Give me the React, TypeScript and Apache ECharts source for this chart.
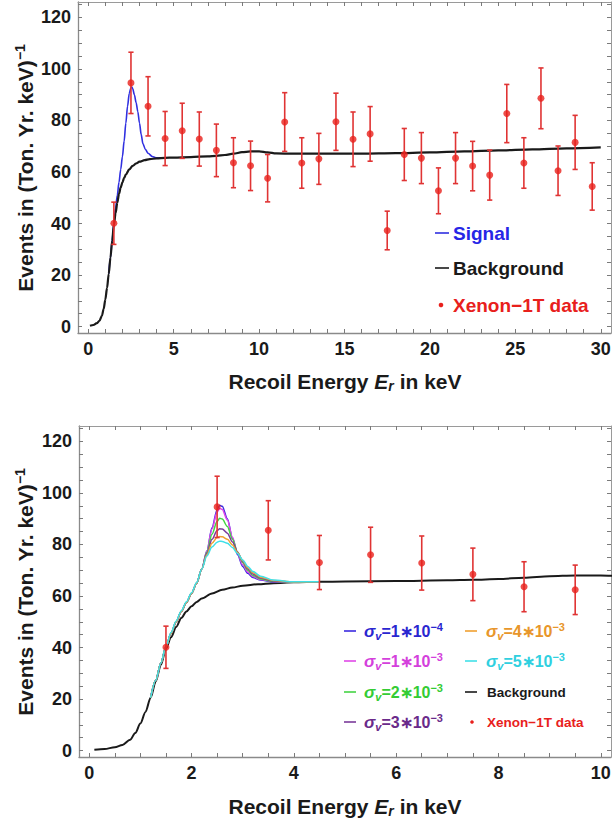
import React, { useEffect, useRef } from 'react';
import * as echarts from 'echarts';

// ---------- data ----------
const dataE = [1.5, 2.5, 3.5, 4.5, 5.5, 6.5, 7.5, 8.5, 9.5, 10.5, 11.5, 12.5, 13.5, 14.5, 15.5, 16.5, 17.5, 18.5, 19.5, 20.5, 21.5, 22.5, 23.5, 24.5, 25.5, 26.5, 27.5, 28.5, 29.5];
const dataV = [40.1, 94.6, 85.5, 73.0, 76.0, 72.8, 68.4, 63.6, 62.4, 57.6, 79.4, 63.5, 65.1, 79.5, 72.7, 74.8, 37.3, 66.8, 65.4, 52.7, 65.4, 62.3, 58.8, 82.7, 63.5, 88.6, 60.5, 71.5, 54.4];
const dataErr = [8.2, 11.9, 11.5, 10.5, 10.7, 10.5, 10.2, 9.7, 9.6, 9.2, 11.4, 9.8, 9.9, 11.1, 10.6, 10.6, 7.5, 10.1, 9.9, 8.9, 9.9, 9.6, 9.7, 11.3, 9.8, 11.8, 9.6, 10.5, 9.2];

const bgE = [0.1, 0.3, 0.5, 0.65, 0.8, 0.9, 1.0, 1.1, 1.2, 1.3, 1.4, 1.5, 1.6, 1.7, 1.8, 1.9, 2.0, 2.1, 2.2, 2.4, 2.6, 2.8, 3.0, 3.3, 3.6, 4.0, 4.5, 5.0, 6.0, 7.0, 7.5, 8.0, 8.5, 9.0, 9.5, 10.0, 10.5, 11.0, 12.0, 14.0, 16.0, 18.0, 20.0, 22.0, 24.0, 26.0, 28.0, 30.0];
const bgV = [0.3, 0.6, 1.3, 2.2, 4.2, 6.8, 10.5, 15.0, 20.5, 26.8, 33.3, 39.5, 44.0, 48.0, 51.5, 54.0, 56.0, 57.7, 59.0, 61.0, 62.4, 63.3, 64.0, 64.6, 65.0, 65.3, 65.5, 65.6, 65.8, 66.1, 66.3, 66.6, 67.1, 67.7, 68.0, 68.0, 67.6, 67.2, 67.1, 67.1, 67.1, 67.3, 67.6, 68.0, 68.4, 68.8, 69.2, 69.6];

const topSigE = [1.2, 1.3, 1.4, 1.5, 1.6, 1.7, 1.8, 1.9, 2.0, 2.1, 2.2, 2.3, 2.4, 2.5, 2.55, 2.6, 2.7, 2.8, 2.9, 3.0, 3.1, 3.2, 3.35, 3.5, 3.75, 4.0, 4.5];
const topSigV = [20.5, 26.8, 33.5, 40.3, 46.0, 51.0, 56.0, 61.0, 66.0, 72.0, 79.0, 85.5, 90.5, 92.8, 93.0, 92.4, 90.0, 87.0, 83.5, 79.0, 74.5, 71.0, 68.7, 67.3, 66.0, 65.5, 65.5];

const sigE = [1.2, 1.3, 1.4, 1.5, 1.6, 1.7, 1.8, 1.9, 2.0, 2.1, 2.2, 2.3, 2.4, 2.5, 2.55, 2.6, 2.7, 2.8, 2.9, 3.0, 3.1, 3.2, 3.35, 3.6, 4.0, 4.5];
const sig1e4 = [20.5, 27.3, 34.0, 40.3, 45.5, 50.0, 54.0, 57.5, 61.0, 65.0, 70.5, 77.5, 86.5, 93.5, 95.2, 94.8, 90.0, 82.5, 76.0, 71.5, 68.8, 67.2, 66.2, 65.5, 65.3, 65.5];
const sig1e3 = [20.5, 27.3, 34.0, 40.3, 45.5, 50.0, 54.0, 57.5, 61.0, 65.0, 70.5, 77.5, 86.0, 92.6, 94.0, 93.6, 89.5, 82.8, 76.6, 72.2, 69.3, 67.6, 66.4, 65.6, 65.3, 65.5];
const sig2e3 = [20.5, 27.3, 34.0, 40.3, 45.5, 50.0, 54.0, 57.5, 61.0, 65.0, 70.5, 77.0, 84.0, 89.0, 90.2, 89.9, 87.0, 82.0, 77.0, 73.0, 70.0, 68.0, 66.6, 65.7, 65.3, 65.5];
const sig3e3 = [20.5, 27.3, 34.0, 40.3, 45.5, 50.0, 54.0, 57.5, 61.0, 65.0, 70.5, 76.5, 82.0, 85.4, 86.1, 86.0, 84.4, 81.0, 77.0, 73.5, 70.5, 68.5, 67.0, 65.8, 65.4, 65.5];
const sig4e3 = [20.5, 27.3, 34.0, 40.3, 45.5, 50.0, 54.0, 57.5, 61.0, 65.0, 70.5, 76.0, 80.5, 82.7, 83.1, 83.0, 82.0, 79.8, 76.8, 73.8, 71.0, 69.0, 67.3, 66.0, 65.4, 65.5];
const sig5e3 = [20.5, 27.3, 34.0, 40.5, 45.8, 50.3, 54.3, 57.8, 61.3, 65.2, 70.5, 75.5, 79.0, 80.9, 81.3, 81.2, 80.5, 78.8, 76.5, 74.0, 71.5, 69.5, 67.7, 66.2, 65.5, 65.5];

const topXLabels = [0, 5, 10, 15, 20, 25, 30];
const topXTicks = [0, 1, 2, 3, 4, 5, 6, 7, 8, 9, 10, 11, 12, 13, 14, 15, 16, 17, 18, 19, 20, 21, 22, 23, 24, 25, 26, 27, 28, 29, 30];
const botXLabels = [0, 2, 4, 6, 8, 10];
const botXTicks = [0, 0.5, 1, 1.5, 2, 2.5, 3, 3.5, 4, 4.5, 5, 5.5, 6, 6.5, 7, 7.5, 8, 8.5, 9, 9.5, 10];
const yLabels = [0, 20, 40, 60, 80, 100, 120];
const yTicks = [0, 5, 10, 15, 20, 25, 30, 35, 40, 45, 50, 55, 60, 65, 70, 75, 80, 85, 90, 95, 100, 105, 110, 115, 120, 125];

// ---------- helpers ----------
const FF = "'Liberation Sans', Arial, Helvetica, sans-serif";
const C = {
  red: '#e8201c',
  err: '#e03434',
  black: '#1a1a1a',
  blue: '#3030e0',
  s1: '#3a2ae0',
  s2: '#e048e8',
  s3: '#44d444',
  s4: '#7a3a9a',
  s5: '#f0a030',
  s6: '#40e0e8',
};

const pairs = (xs: number[], ys: number[]) => xs.map((x, i) => [x, ys[i]]);

const errRender = (_params: any, api: any) => {
  const x = api.value(0);
  const a = api.coord([x, api.value(2)]);
  const b = api.coord([x, api.value(1)]);
  const st = { stroke: C.err, lineWidth: 1.6 };
  const w = 2.6;
  return {
    type: 'group',
    children: [
      { type: 'line', shape: { x1: a[0], y1: a[1], x2: b[0], y2: b[1] }, style: st },
      { type: 'line', shape: { x1: a[0] - w, y1: a[1], x2: a[0] + w, y2: a[1] }, style: st },
      { type: 'line', shape: { x1: b[0] - w, y1: b[1], x2: b[0] + w, y2: b[1] }, style: st },
    ],
  };
};

const axisLineStyle = { color: '#8a8a8a', width: 1.3 };
const tickStyle = { color: '#7a7a7a', width: 1 };
const labelStyle = { fontSize: 18, fontWeight: 'bold' as const, color: '#1a1a1a', fontFamily: FF };

function xAxes(gridIndex: number, min: number, max: number, labels: number[], ticks: number[]) {
  return [
    {
      type: 'value', gridIndex, min, max, position: 'bottom',
      axisLine: { show: true, onZero: false, lineStyle: axisLineStyle },
      axisTick: { show: true, inside: true, length: 4, customValues: ticks, lineStyle: tickStyle },
      axisLabel: { ...labelStyle, margin: 7, customValues: labels },
      splitLine: { show: false },
    },
    {
      type: 'value', gridIndex, min, max, position: 'top',
      axisLine: { show: true, onZero: false, lineStyle: { color: '#9a9a9a', width: 1 } },
      axisTick: { show: true, inside: true, length: 4, customValues: ticks, lineStyle: tickStyle },
      axisLabel: { show: false },
      splitLine: { show: false },
    },
  ];
}

function yAxes(gridIndex: number) {
  return [
    {
      type: 'value', gridIndex, min: -2.5, max: 126, position: 'left',
      axisLine: { show: true, onZero: false, lineStyle: axisLineStyle },
      axisTick: { show: true, inside: true, length: 4, customValues: yTicks, lineStyle: tickStyle },
      axisLabel: { ...labelStyle, margin: 7, customValues: yLabels },
      splitLine: { show: false },
    },
    {
      type: 'value', gridIndex, min: -2.5, max: 126, position: 'right',
      axisLine: { show: true, onZero: false, lineStyle: { color: '#9a9a9a', width: 1 } },
      axisTick: { show: true, inside: true, length: 4, customValues: yTicks, lineStyle: tickStyle },
      axisLabel: { show: false },
      splitLine: { show: false },
    },
  ];
}

const lineSeries = (name: string, xi: number, yi: number, data: number[][], color: string, width: number, z = 2) => ({
  name, type: 'line', xAxisIndex: xi, yAxisIndex: yi, data, showSymbol: false, symbol: 'none',
  smooth: 0.3, smoothMonotone: 'x', lineStyle: { color, width }, z, silent: true,
});

const errData = dataE.map((x, i) => [x, dataV[i] - dataErr[i], dataV[i] + dataErr[i]]);
const dotData = pairs(dataE, dataV);
const botErr = errData.filter((d) => d[0] < 10);
const botDots = dotData.filter((d) => d[0] < 10);

const yTitle = (y: number) => ({
  type: 'text', x: 25, y, rotation: Math.PI / 2, z: 10,
  style: {
    text: '{a|Events in (Ton. Yr. keV)}{b|−1}',
    align: 'center', verticalAlign: 'middle',
    rich: {
      a: { fontSize: 21, fontWeight: 'bold', fontFamily: FF, fill: '#1a1a1a', lineHeight: 24 },
      b: { fontSize: 14, fontWeight: 'bold', fontFamily: FF, fill: '#1a1a1a', lineHeight: 14, verticalAlign: 'top' },
    },
  },
});

const xTitle = (y: number) => ({
  type: 'text', x: 345, y, z: 10,
  style: {
    text: '{a|Recoil Energy }{e|E}{s|r}{a| in keV}',
    align: 'center', verticalAlign: 'middle',
    rich: {
      a: { fontSize: 21, fontWeight: 'bold', fontFamily: FF, fill: '#1a1a1a', lineHeight: 24 },
      e: { fontSize: 21, fontWeight: 'bold', fontStyle: 'italic', fontFamily: FF, fill: '#1a1a1a', lineHeight: 24 },
      s: { fontSize: 14, fontWeight: 'bold', fontStyle: 'italic', fontFamily: FF, fill: '#1a1a1a', lineHeight: 14, verticalAlign: 'bottom' },
    },
  },
});

const legLine = (x1: number, x2: number, y: number, color: string, w = 1.6) => ({
  type: 'line', z: 10, shape: { x1, y1: y, x2, y2: y }, style: { stroke: color, lineWidth: w },
});
const legText = (x: number, y: number, text: string, fill: string, size: number) => ({
  type: 'text', x, y, z: 10,
  style: { text, fill, fontSize: size, fontWeight: 'bold', fontFamily: FF, align: 'left', verticalAlign: 'middle' },
});
const sigmaText = (x: number, y: number, mant: string, exp: string, fill: string) => ({
  type: 'text', x, y, z: 10,
  style: {
    text: `{g|σ}{v|v}{t|=${mant}∗10}{p|−${exp}}`,
    align: 'left', verticalAlign: 'middle',
    rich: {
      g: { fontSize: 17, fontWeight: 'bold', fontStyle: 'italic', fontFamily: FF, fill, lineHeight: 20 },
      v: { fontSize: 11, fontWeight: 'bold', fontStyle: 'italic', fontFamily: FF, fill, lineHeight: 11, verticalAlign: 'bottom' },
      t: { fontSize: 16, fontWeight: 'bold', fontFamily: FF, fill, lineHeight: 20 },
      p: { fontSize: 11, fontWeight: 'bold', fontFamily: FF, fill, lineHeight: 11, verticalAlign: 'top' },
    },
  },
});

const rows = [631, 661, 692, 722];

const option: any = {
  animation: false,
  backgroundColor: '#ffffff',
  grid: [
    { left: 78, top: 2, width: 533, height: 331 },
    { left: 79, top: 426, width: 532, height: 331 },
  ],
  xAxis: [...xAxes(0, -0.6, 30.6, topXLabels, topXTicks), ...xAxes(1, -0.2, 10.2, botXLabels, botXTicks)],
  yAxis: [...yAxes(0), ...yAxes(1)],
  series: [
    // top chart
    lineSeries('Background', 0, 0, pairs(bgE, bgV), C.black, 2.2, 3),
    lineSeries('Signal', 0, 0, pairs(topSigE, topSigV), C.blue, 1.6, 2),
    {
      type: 'custom', xAxisIndex: 0, yAxisIndex: 0, renderItem: errRender, data: errData,
      encode: { x: 0, y: [1, 2] }, z: 4, silent: true,
    },
    {
      type: 'scatter', xAxisIndex: 0, yAxisIndex: 0, data: dotData, symbolSize: 7,
      itemStyle: { color: C.red }, z: 5, silent: true,
    },
    // bottom chart
    lineSeries('Background', 2, 2, pairs(bgE, bgV), C.black, 2.0, 2),
    lineSeries('1e-4', 2, 2, pairs(sigE, sig1e4), C.s1, 1.5, 3),
    lineSeries('1e-3', 2, 2, pairs(sigE, sig1e3), C.s2, 1.5, 3),
    lineSeries('2e-3', 2, 2, pairs(sigE, sig2e3), C.s3, 1.5, 3),
    lineSeries('3e-3', 2, 2, pairs(sigE, sig3e3), C.s4, 1.5, 3),
    lineSeries('4e-3', 2, 2, pairs(sigE, sig4e3), C.s5, 1.5, 3),
    lineSeries('5e-3', 2, 2, pairs(sigE, sig5e3), C.s6, 1.5, 3),
    {
      type: 'custom', xAxisIndex: 2, yAxisIndex: 2, renderItem: errRender, data: botErr,
      encode: { x: 0, y: [1, 2] }, z: 4, silent: true,
    },
    {
      type: 'scatter', xAxisIndex: 2, yAxisIndex: 2, data: botDots, symbolSize: 7,
      itemStyle: { color: C.red }, z: 5, silent: true,
    },
  ],
  graphic: [
    yTitle(168),
    yTitle(592),
    xTitle(381),
    xTitle(806),
    // top legend
    legLine(435, 449, 233, C.blue),
    legText(453, 233, 'Signal', '#2626e6', 19),
    legLine(435, 449, 268, C.black),
    legText(453, 268, 'Background', '#1a1a1a', 19),
    { type: 'circle', z: 10, shape: { cx: 441, cy: 305, r: 2.3 }, style: { fill: C.red } },
    legText(453, 305, 'Xenon−1T data', '#e8201c', 19),
    // bottom legend col 1
    legLine(344, 356, rows[0], C.s1),
    sigmaText(364, rows[0], '1', '4', '#2a26d0'),
    legLine(344, 356, rows[1], C.s2),
    sigmaText(364, rows[1], '1', '3', '#d440dc'),
    legLine(344, 356, rows[2], C.s3),
    sigmaText(364, rows[2], '2', '3', '#34cc34'),
    legLine(344, 356, rows[3], C.s4),
    sigmaText(364, rows[3], '3', '3', '#6a2a8a'),
    // bottom legend col 2
    legLine(465, 477, rows[0], C.s5),
    sigmaText(486, rows[0], '4', '3', '#e8962a'),
    legLine(465, 477, rows[1], C.s6),
    sigmaText(486, rows[1], '5', '3', '#30d0e0'),
    legLine(465, 477, rows[2], C.black),
    legText(487, rows[2], 'Background', '#1a1a1a', 13.5),
    { type: 'circle', z: 10, shape: { cx: 472, cy: rows[3], r: 1.8 }, style: { fill: C.red } },
    legText(487, rows[3], 'Xenon−1T data', '#e8201c', 13.5),
  ],
};

export default function App() {
  const ref = useRef<HTMLDivElement>(null);
  useEffect(() => {
    if (!ref.current) return;
    const chart = echarts.init(ref.current, null, { renderer: 'svg' });
    chart.setOption(option);
    return () => chart.dispose();
  }, []);
  return (
    <div
      ref={ref}
      style={{ position: 'absolute', left: 0, top: 0, width: 614, height: 825, background: '#ffffff' }}
    />
  );
}
